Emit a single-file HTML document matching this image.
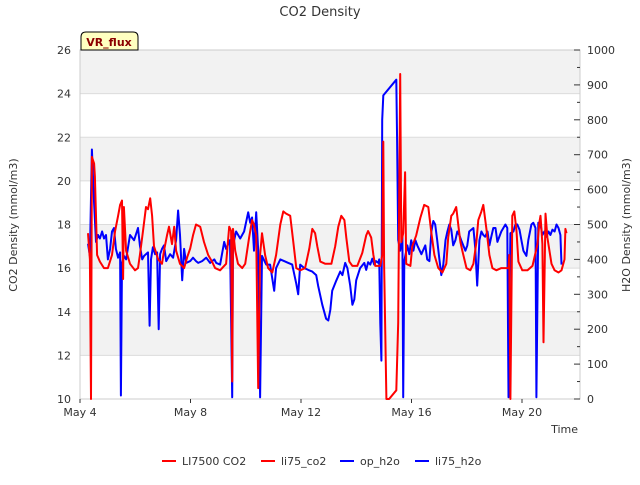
<!DOCTYPE html>
<html><head><meta charset="utf-8"><style>
body{margin:0;background:#fff;font-family:"Liberation Sans","DejaVu Sans",sans-serif}
svg text{font-family:"DejaVu Sans","Liberation Sans",sans-serif;font-size:11px;fill:#333}
</style></head><body>
<svg id="c" width="640" height="480" xmlns="http://www.w3.org/2000/svg">
<text x="320" y="16" text-anchor="middle" style="font-size:13px">CO2 Density</text>
<g id="bands"></g><g id="grid"></g>
<rect x="80" y="50" width="500" height="349" fill="none" stroke="#ccc"/>
<g id="series"></g><g id="axes"></g>
<text transform="translate(17,225) rotate(-90)" text-anchor="middle">CO2 Density (mmol/m3)</text>
<text transform="translate(630,225) rotate(-90)" text-anchor="middle">H2O Density (mmol/m3)</text>
<text x="578" y="433" text-anchor="end">Time</text>
<g><path d="M81,50 L81,37 Q81,32 86,32 L133,32 Q138,32 138,37 L138,50 Z" fill="#ffffc0" stroke="#000"/><text x="109" y="46" text-anchor="middle" font-weight="bold" style="fill:#8b0000;font-size:11px">VR_flux</text></g>
<g>
<g><line x1="162" y1="461" x2="176" y2="461" stroke="#f00" stroke-width="2"/><text x="182" y="465">LI7500 CO2</text></g>
<g><line x1="261" y1="461" x2="275" y2="461" stroke="#f00" stroke-width="2"/><text x="281" y="465">li75_co2</text></g>
<g><line x1="340" y1="461" x2="354" y2="461" stroke="#00f" stroke-width="2"/><text x="360" y="465">op_h2o</text></g>
<g><line x1="415" y1="461" x2="429" y2="461" stroke="#00f" stroke-width="2"/><text x="435" y="465">li75_h2o</text></g>
</g>
</svg>
<script>
const xTickLabels=["May 4","May 8","May 12","May 16","May 20"];
const xTickDays=[0,4,8,12,16];
const leftTicks=[10,12,14,16,18,20,22,24,26];
const rightTicks=[0,100,200,300,400,500,600,700,800,900,1000];
const co2Days=[0.29,0.36,0.40,0.43,0.51,0.54,0.62,0.72,0.87,1.01,1.16,1.27,1.38,1.45,1.52,1.56,1.59,1.67,1.81,1.99,2.10,2.17,2.28,2.39,2.46,2.54,2.61,2.68,2.83,2.97,3.04,3.15,3.22,3.33,3.41,3.48,3.62,3.77,3.88,3.99,4.09,4.20,4.35,4.49,4.64,4.78,4.89,5.07,5.29,5.40,5.47,5.51,5.54,5.62,5.72,5.87,5.98,6.12,6.23,6.30,6.38,6.45,6.52,6.59,6.70,6.81,6.96,7.10,7.25,7.36,7.46,7.61,7.72,7.83,7.97,8.15,8.30,8.41,8.51,8.59,8.70,8.88,9.10,9.24,9.35,9.46,9.57,9.64,9.75,9.86,10.04,10.22,10.36,10.43,10.54,10.62,10.69,10.87,10.94,10.98,11.01,11.09,11.19,11.45,11.52,11.59,11.63,11.70,11.77,11.81,11.96,12.03,12.17,12.32,12.46,12.61,12.72,12.83,12.97,13.12,13.26,13.33,13.44,13.51,13.62,13.70,13.77,13.84,13.99,14.13,14.24,14.35,14.42,14.53,14.60,14.71,14.82,14.93,15.07,15.25,15.51,15.54,15.58,15.65,15.72,15.80,15.87,16.01,16.20,16.38,16.56,16.63,16.67,16.74,16.78,16.85,16.92,17.07,17.18,17.32,17.43,17.54,17.57,17.61];
const co2Values=[17.6,16.4,10,21.1,20.8,20.2,16.6,16.3,16.0,16.0,16.6,17.7,18.4,18.9,19.1,15.5,18.8,16.8,16.2,15.9,16.0,16.6,17.7,18.8,18.7,19.2,18.4,17.0,16.4,16.2,16.8,17.5,17.9,17.1,17.9,16.8,16.2,16.0,16.5,16.9,17.5,18.0,17.9,17.2,16.6,16.3,16.0,15.9,16.2,17.9,17.7,10.8,17.8,16.8,16.2,16.0,16.2,17.4,18.2,18.0,17.5,10.5,16.6,17.6,16.6,16.0,15.8,16.6,18.0,18.6,18.5,18.4,17.2,16.0,15.9,16.0,16.9,17.8,17.6,17.0,16.3,16.2,16.2,17.0,17.9,18.4,18.2,17.4,16.3,16.1,16.1,16.7,17.5,17.7,17.4,16.6,16.1,16.1,16.6,21.8,16.2,10,10.0,10.4,13.5,24.9,17.2,17.6,20.4,16.2,16.1,17.0,17.5,18.3,18.9,18.8,17.6,16.6,16.0,15.8,16.2,17.4,18.4,18.5,18.8,17.9,17.2,16.8,16.0,15.9,16.2,17.2,18.2,18.6,18.9,17.8,16.6,16.0,15.9,16.0,16.0,16.6,10,18.4,18.6,17.7,16.3,15.9,15.9,16.1,17.1,18.1,18.4,17.1,12.6,18.5,17.4,16.2,15.9,15.8,15.9,16.4,17.8,17.6];
const h2oDays=[0.29,0.36,0.43,0.51,0.58,0.65,0.72,0.80,0.87,0.94,1.01,1.09,1.16,1.23,1.30,1.38,1.45,1.48,1.52,1.59,1.67,1.81,1.96,2.10,2.17,2.25,2.32,2.46,2.52,2.57,2.64,2.72,2.79,2.85,2.90,2.97,3.04,3.12,3.26,3.37,3.48,3.55,3.62,3.70,3.77,3.84,3.99,4.09,4.20,4.28,4.42,4.57,4.71,4.86,4.93,5.07,5.22,5.29,5.43,5.51,5.54,5.65,5.80,5.94,6.09,6.16,6.23,6.30,6.38,6.45,6.52,6.59,6.74,6.88,7.03,7.10,7.25,7.39,7.54,7.68,7.83,7.90,7.97,8.12,8.26,8.41,8.55,8.62,8.77,8.91,8.99,9.06,9.13,9.28,9.42,9.50,9.60,9.68,9.78,9.86,9.93,10.00,10.14,10.29,10.36,10.43,10.51,10.58,10.65,10.72,10.80,10.83,10.87,10.91,10.94,10.98,11.45,11.48,11.52,11.59,11.67,11.70,11.74,11.85,11.92,11.99,12.07,12.14,12.21,12.36,12.50,12.57,12.65,12.72,12.79,12.86,12.93,13.01,13.08,13.15,13.23,13.30,13.37,13.44,13.51,13.59,13.66,13.73,13.80,13.95,14.02,14.09,14.24,14.31,14.38,14.46,14.53,14.60,14.67,14.75,14.82,14.89,14.96,15.04,15.11,15.25,15.40,15.47,15.51,15.58,15.69,15.76,15.83,15.91,15.98,16.05,16.16,16.23,16.34,16.41,16.49,16.52,16.59,16.67,16.74,16.81,16.88,16.96,17.03,17.10,17.18,17.25,17.32,17.39,17.43];
const h2oValues=[445,410,715,560,450,470,460,480,460,470,400,430,480,490,430,405,420,10,390,410,400,470,455,490,440,400,410,420,210,400,435,415,420,200,415,430,440,395,415,405,455,540,470,340,430,390,395,405,395,390,395,405,390,400,390,385,450,430,455,5,440,480,460,480,535,505,520,425,535,425,5,410,385,385,310,375,400,395,390,385,330,300,385,375,370,365,355,325,270,230,225,255,310,340,365,355,390,375,325,270,285,340,375,390,370,392,385,402,385,395,390,400,215,110,800,870,915,740,455,425,470,5,395,440,415,455,425,455,440,415,440,400,395,480,510,500,455,400,355,385,455,480,500,485,440,455,480,470,455,425,440,480,490,430,325,455,480,470,465,480,440,465,490,490,450,480,500,490,5,475,480,500,500,485,455,425,410,455,500,505,490,5,505,500,470,480,465,480,470,485,480,500,490,470,385];

const NS="http://www.w3.org/2000/svg";
const L=80,R=580,T=50,B=399;
const xS=d=>L+d*(R-L)/18.1;
const yL=v=>B-(v-10)*(B-T)/16;
const yR=v=>B-v*(B-T)/1000;
function mk(tag,attrs,parent){const e=document.createElementNS(NS,tag);for(const k in attrs)e.setAttribute(k,attrs[k]);parent.appendChild(e);return e;}
const bands=document.getElementById('bands'),grid=document.getElementById('grid'),axes=document.getElementById('axes'),series=document.getElementById('series');
for(let i=0;i<leftTicks.length-1;i++){
  if(i%2===1){const r=mk('rect',{x:L,y:yL(leftTicks[i+1]),width:R-L,height:yL(leftTicks[i])-yL(leftTicks[i+1]),fill:'#f2f2f2'},bands);
  
  }
}
leftTicks.forEach(v=>{
  const g=mk('line',{x1:L,x2:R,y1:yL(v),y2:yL(v),stroke:'#dcdcdc'},grid);
  
  
  const t=mk('text',{x:L-9,y:yL(v)+4,'text-anchor':'end'},axes);t.textContent=v;
  
  
});
rightTicks.forEach(v=>{
  mk('line',{x1:R-6,x2:R,y1:yR(v),y2:yR(v),stroke:'#333'},axes);
  if(v<1000)mk('line',{x1:R-3,x2:R,y1:yR(v+50),y2:yR(v+50),stroke:'#333'},axes);
  const t=mk('text',{x:R+7,y:yR(v)+4},axes);t.textContent=v;
  
  
});
xTickDays.forEach((d,i)=>{
  mk('line',{x1:xS(d),x2:xS(d),y1:B,y2:B+4,stroke:'#333'},axes);
  const t=mk('text',{x:xS(d),y:B+17,'text-anchor':'middle'},axes);t.textContent=xTickLabels[i];
  
  
});
function line(days,vals,ys,color,name){
  const d=days.map((t,i)=>(i?'L':'M')+xS(t).toFixed(1)+','+ys(vals[i]).toFixed(1)).join('');
  const p=mk('path',{d:d,fill:'none',stroke:color,'stroke-width':2,'stroke-linejoin':'round'},series);
  
  
}
line(h2oDays,h2oValues,yR,'#0000ff','li75-h2o-line');
line(co2Days,co2Values,yL,'#ff0000','li75-co2-line');
</script>
</body></html>
